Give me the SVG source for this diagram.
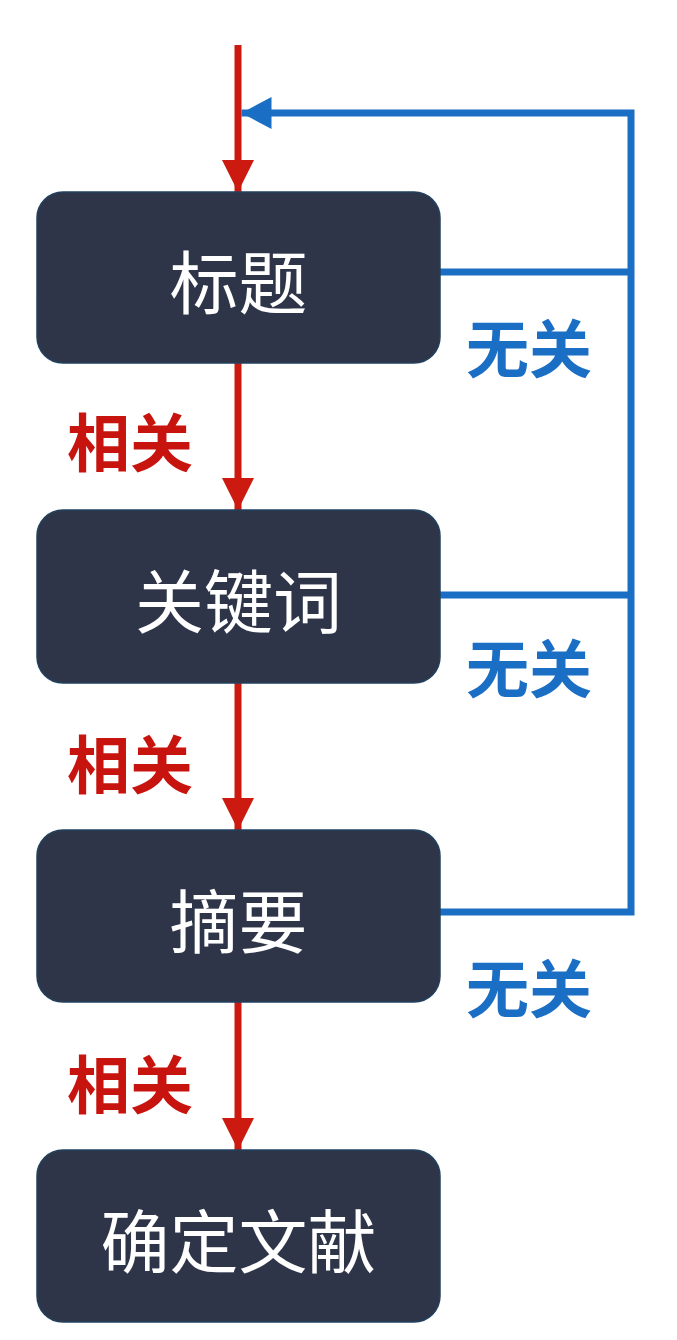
<svg xmlns="http://www.w3.org/2000/svg" width="677" height="1340" viewBox="0 0 677 1340">
<style>
.box{fill:#2e3549;stroke:#22405e;stroke-width:1.5}
.bt{font-family:"Noto Sans CJK SC","Noto Sans",sans-serif;font-size:69px;fill:#ffffff;text-anchor:middle;dominant-baseline:central}
.red{stroke:#cc1a10;stroke-width:7;fill:none}
.blue{stroke:#1a6fc4;stroke-width:7;fill:none}
.rl{font-family:"Noto Sans CJK SC",sans-serif;font-size:63px;font-weight:bold;fill:#c8140e}
.bl{font-family:"Noto Sans CJK SC",sans-serif;font-size:63px;font-weight:bold;fill:#1a6fc4}
</style>
<defs>
<marker id="ra" markerUnits="userSpaceOnUse" markerWidth="32" markerHeight="32" refX="32" refY="16" orient="auto" viewBox="0 0 32 32">
<path d="M0,0 L32,16 L0,32 Z" fill="#cc1a10"/>
</marker>
<marker id="ba" markerUnits="userSpaceOnUse" markerWidth="30" markerHeight="32" refX="30" refY="16" orient="auto" viewBox="0 0 30 32">
<path d="M0,0 L30,16 L0,32 Z" fill="#1a6fc4"/>
</marker>
</defs>
<rect width="677" height="1340" fill="#ffffff"/>
<g id="connectors">
<line class="red" x1="238" y1="45" x2="238" y2="192" marker-end="url(#ra)"/>
<line class="red" x1="238" y1="363" x2="238" y2="510" marker-end="url(#ra)"/>
<line class="red" x1="238" y1="683" x2="238" y2="830" marker-end="url(#ra)"/>
<line class="red" x1="238" y1="1002" x2="238" y2="1150" marker-end="url(#ra)"/>
<path class="blue" d="M440,912 H631 V113 H241.5" marker-end="url(#ba)"/>
<line class="blue" x1="440" y1="272" x2="631" y2="272"/>
<line class="blue" x1="440" y1="595" x2="631" y2="595"/>
<text class="rl" x="67" y="466">相关</text>
<text class="rl" x="67" y="788">相关</text>
<text class="rl" x="67" y="1108">相关</text>
<text class="bl" x="466" y="372">无关</text>
<text class="bl" x="466" y="692">无关</text>
<text class="bl" x="466" y="1012">无关</text>
</g>
<g id="node-title">
<rect class="box" x="37" y="192" width="403" height="171" rx="26"/>
<text class="bt" x="238.5" y="279">标题</text>
</g>
<g id="node-keywords">
<rect class="box" x="37" y="510" width="403" height="173" rx="26"/>
<text class="bt" x="238.5" y="598">关键词</text>
</g>
<g id="node-abstract">
<rect class="box" x="37" y="830" width="403" height="172" rx="26"/>
<text class="bt" x="238.5" y="918">摘要</text>
</g>
<g id="node-confirm">
<rect class="box" x="37" y="1150" width="403" height="172" rx="26"/>
<text class="bt" x="238.5" y="1238">确定文献</text>
</g>
</svg>
